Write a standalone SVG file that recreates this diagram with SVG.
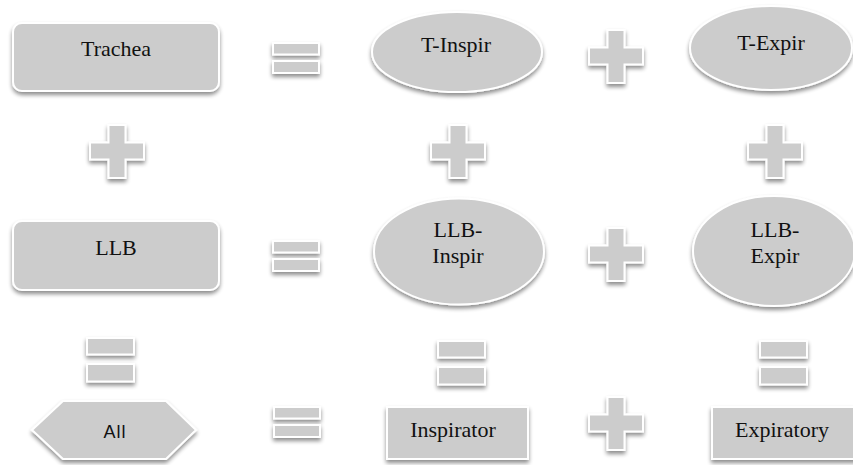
<svg xmlns="http://www.w3.org/2000/svg" width="853" height="465" viewBox="0 0 853 465">
<style>
.s{fill:#cccccc;stroke:#ffffff;stroke-width:2;filter:url(#sh)}
.t{font-family:"Liberation Serif","Times New Roman",serif;font-size:22px;fill:#111;text-anchor:middle}
.a{font-family:"Liberation Sans",Arial,sans-serif;font-size:18px;fill:#111;text-anchor:middle;letter-spacing:1px}
</style>
<defs>
<filter id="sh" x="-20%" y="-20%" width="140%" height="150%">
<feGaussianBlur in="SourceAlpha" stdDeviation="2"/>
<feOffset dy="3" result="b"/>
<feComponentTransfer><feFuncA type="linear" slope="0.45"/></feComponentTransfer>
<feMerge><feMergeNode/><feMergeNode in="SourceGraphic"/></feMerge>
</filter>
<path id="plus" d="M-8.5,-26 h17 v17.5 h18.5 v17 h-18.5 v18.5 h-17 v-18.5 h-18.5 v-17 h18.5 z"/>
<g id="eq"><rect x="0" y="0" width="46" height="11.5"/><rect x="0" y="18" width="46" height="12"/></g>
<g id="eqv"><rect x="0" y="0" width="47" height="16.5"/><rect x="0" y="26" width="47" height="17.5"/></g>
</defs>
<rect width="853" height="465" fill="#ffffff"/>
<g id="trachea"><rect class="s" x="13" y="23" width="206" height="68" rx="9"/><text class="t" x="116" y="56">Trachea</text></g>
<g id="t-inspir"><ellipse class="s" cx="457" cy="52" rx="85" ry="40"/><text class="t" x="456" y="52">T-Inspir</text></g>
<g id="t-expir"><ellipse class="s" cx="771" cy="48" rx="81" ry="42"/><text class="t" x="771" y="50">T-Expir</text></g>
<g id="llb"><rect class="s" x="13" y="221" width="206" height="69" rx="9"/><text class="t" x="116" y="255">LLB</text></g>
<g id="llb-inspir"><ellipse class="s" cx="459" cy="251.5" rx="85" ry="53"/><text class="t" x="458" y="237">LLB-</text><text class="t" x="458" y="263">Inspir</text></g>
<g id="llb-expir"><ellipse class="s" cx="774" cy="251" rx="81" ry="55"/><text class="t" x="775" y="237">LLB-</text><text class="t" x="775" y="263">Expir</text></g>
<g id="all"><polygon class="s" points="32,430 63,401 166,401 196,430 166,459 63,459"/><text class="a" x="115" y="438">All</text></g>
<g id="inspirator"><rect class="s" x="387" y="407" width="141" height="52"/><text class="t" x="453" y="437">Inspirator</text></g>
<g id="expiratory"><rect class="s" x="712" y="407" width="150" height="52"/><text class="t" x="782" y="437">Expiratory</text></g>
<g id="operators">
<use class="s" href="#eq" x="273" y="43"/>
<use class="s" href="#plus" x="616" y="56"/>
<use class="s" href="#plus" x="117" y="151"/>
<use class="s" href="#plus" x="458" y="151"/>
<use class="s" href="#plus" x="775" y="151"/>
<use class="s" href="#eq" x="273" y="241"/>
<use class="s" href="#plus" x="616" y="254"/>
<use class="s" href="#eqv" x="87" y="338"/>
<use class="s" href="#eqv" x="438" y="341"/>
<use class="s" href="#eqv" x="760" y="341"/>
<use class="s" href="#eq" x="274" y="407"/>
<use class="s" href="#plus" x="616" y="423"/>
</g>
</svg>
